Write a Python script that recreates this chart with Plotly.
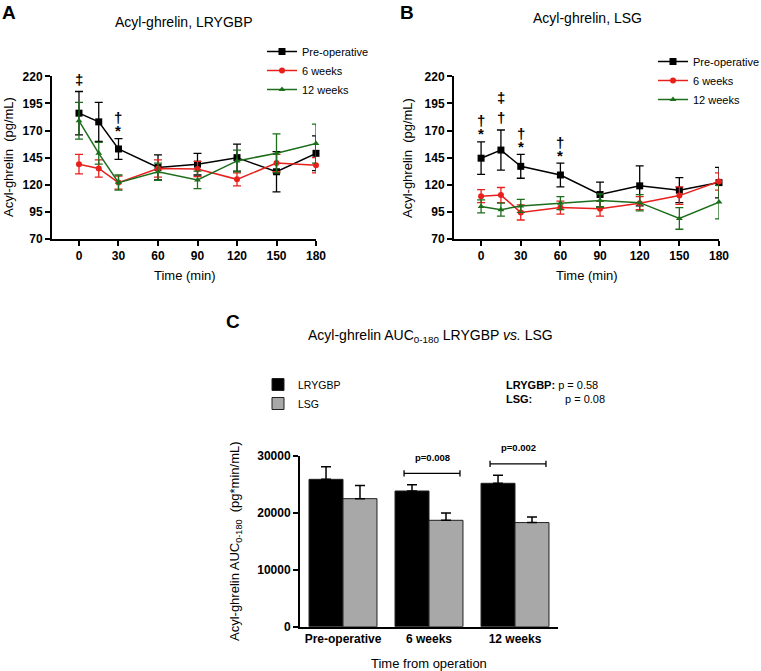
import plotly.graph_objects as go

W, H = 761, 671

# ---- data -------------------------------------------------------------
TIME = [0, 15, 30, 60, 90, 120, 150, 180]
TIME_TICKS = [0, 30, 60, 90, 120, 150, 180]
GHRELIN_TICKS = [70, 95, 120, 145, 170, 195, 220]
SERIES = ['Pre-operative', '6 weeks', '12 weeks']

# Panel A - LRYGBP (mean, SEM)
A_PRE = [186, 178, 153, 136, 139, 145, 132, 149]
A_PRE_SEM = [20, 18, 9.5, 11.5, 10, 12.5, 18.5, 16]
A_6W = [139, 135, 122, 135, 134.5, 125, 140, 138]
A_6W_SEM = [9, 8, 6, 8, 7, 6, 8, 7]
A_12W = [179, 149, 122, 132, 124.5, 142, 149, 158]
A_12W_SEM = [17, 10, 7, 8, 8, 10, 18, 18]

# Panel B - LSG (mean, SEM)
B_PRE = [144.5, 152, 137, 129, 111, 119, 115, 122]
B_PRE_SEM = [15, 18.5, 11, 11, 11.5, 18.5, 11.5, 14]
B_6W = [109.5, 110.5, 94.5, 99, 98, 103, 110, 123]
B_6W_SEM = [6, 7, 7, 6, 7, 6, 8, 8]
B_12W = [100, 97, 100.5, 103, 105.5, 103.5, 89, 104]
B_12W_SEM = [6, 6, 6, 6, 6, 7.5, 10, 15.5]

# significance symbols above the pre-operative curve (bottom to top)
A_MARKS = {0: ['‡'], 30: ['*', '†']}
B_MARKS = {0: ['*', '†'], 15: ['†', '‡'], 30: ['*', '†'], 60: ['*', '†']}

# Panel C - AUC 0-180
AUC_GROUPS = ['Pre-operative', '6 weeks', '12 weeks']
AUC_LRYGBP = [25900, 23850, 25200]
AUC_LRYGBP_SEM = [2200, 1100, 1400]
AUC_LSG = [22500, 18700, 18300]
AUC_LSG_SEM = [2300, 1300, 1000]
AUC_TICKS = [0, 10000, 20000, 30000]
AUC_PVALUES = {'6 weeks': 'p=0.008', '12 weeks': 'p=0.002'}

# ---- styling ----------------------------------------------------------
FONT = 'Liberation Sans, Arial, sans-serif'
STYLE = {
    'Pre-operative': dict(color='black', symbol='square', size=7),
    '6 weeks': dict(color='#e8201c', symbol='circle', size=6),
    '12 weeks': dict(color='#1c6e1c', symbol='triangle-up', size=6),
}


def px_x(x):
    return x / W


def px_y(y):
    return 1 - y / H


fig = go.Figure()


def add_panel(means, sems, xa, ya, legend):
    for name, m, s in zip(SERIES, means, sems):
        st = STYLE[name]
        fig.add_trace(go.Scatter(
            x=TIME, y=m, name=name, mode='lines+markers',
            xaxis=xa, yaxis=ya, legend=legend, cliponaxis=False,
            line=dict(color=st['color'], width=1.5),
            marker=dict(color=st['color'], symbol=st['symbol'], size=st['size']),
            error_y=dict(type='data', array=s, color=st['color'], thickness=1.3, width=4),
        ))


add_panel([A_PRE, A_6W, A_12W], [A_PRE_SEM, A_6W_SEM, A_12W_SEM], 'x', 'y', 'legend')
add_panel([B_PRE, B_6W, B_12W], [B_PRE_SEM, B_6W_SEM, B_12W_SEM], 'x2', 'y2', 'legend2')

# bars
for name, vals, sem, col in [('LRYGBP', AUC_LRYGBP, AUC_LRYGBP_SEM, 'black'),
                             ('LSG', AUC_LSG, AUC_LSG_SEM, '#a8a8a8')]:
    fig.add_trace(go.Bar(
        x=AUC_GROUPS, y=vals, name=name, xaxis='x3', yaxis='y3', legend='legend3',
        marker=dict(color=col, line=dict(color='#202020', width=1)),
        error_y=dict(type='data', array=sem, arrayminus=[0] * len(sem), symmetric=False,
                     color='black', thickness=1.5, width=5),
    ))

annotations = []
shapes = []


def marks(markdict, means, sems, xa, ya):
    first = {'*': 8, '†': 12, '‡': 12}
    step = {'*': 13, '†': 13, '‡': 20}
    for t, syms in markdict.items():
        i = TIME.index(t)
        cap = means[i] + sems[i]
        off = 0
        for k, s in enumerate(syms):
            off += first[s] if k == 0 else step[s]
            annotations.append(dict(
                x=t, y=cap, xref=xa, yref=ya, text='<b>%s</b>' % s, showarrow=False,
                yshift=off, xanchor='center', yanchor='middle',
                font=dict(size=15, color='black')))


marks(A_MARKS, A_PRE, A_PRE_SEM, 'x', 'y')
marks(B_MARKS, B_PRE, B_PRE_SEM, 'x2', 'y2')

# brackets over the AUC bars
for g, ptxt in AUC_PVALUES.items():
    i = AUC_GROUPS.index(g)
    top = max(AUC_LRYGBP[i] + AUC_LRYGBP_SEM[i], AUC_LSG[i] + AUC_LSG_SEM[i])
    yb = top + 2000
    x0, x1 = i - 0.29, i + 0.36
    shapes.append(dict(type='line', xref='x3', yref='y3', x0=x0, x1=x1, y0=yb, y1=yb,
                       line=dict(color='black', width=1.3)))
    for xe in (x0, x1):
        shapes.append(dict(type='line', xref='x3', yref='y3', x0=xe, x1=xe,
                           y0=yb - 550, y1=yb + 550, line=dict(color='black', width=1.3)))
    annotations.append(dict(x=(x0 + x1) / 2, y=yb, xref='x3', yref='y3', text=ptxt,
                            showarrow=False, yshift=16, xanchor='center', yanchor='middle',
                            font=dict(size=9.5, weight='bold')))


def txt(x, y, text, size, **kw):
    d = dict(x=px_x(x), y=px_y(y), xref='paper', yref='paper', text=text,
             showarrow=False, xanchor='center', yanchor='middle',
             font=dict(size=size, color='black'))
    d.update(kw)
    annotations.append(d)


# panel letters and titles
txt(9, 0, '<b>A</b>', 19, yanchor='top')
txt(407, 0, '<b>B</b>', 19, yanchor='top')
txt(233, 321, '<b>C</b>', 19)
txt(183, 22, 'Acyl-ghrelin, LRYGBP', 14)
txt(587, 18, 'Acyl-ghrelin, LSG', 14)
txt(430, 336, 'Acyl-ghrelin AUC<sub>0-180</sub> LRYGBP <i>vs.</i> LSG', 14)

# axis titles
txt(185, 275, 'Time (min)', 13)
txt(587, 275, 'Time (min)', 13)
txt(8, 157, 'Acyl-ghrelin  (pg/mL)', 13, textangle=-90)
txt(407, 158, 'Acyl-ghrelin  (pg/mL)', 13, textangle=-90)
txt(235, 541, 'Acyl-ghrelin AUC<sub>0-180</sub>  (pg*min/mL)', 13, textangle=-90)
txt(429, 663, 'Time from operation', 13)

# overall p-values
txt(504, 385, '<b>LRYGBP:</b> p = 0.58', 11, xanchor='left')
txt(504, 399, '<b>LSG:</b>', 11, xanchor='left')
txt(563, 399, 'p = 0.08', 11, xanchor='left')

axis_common = dict(showline=True, linecolor='black', linewidth=2, ticks='outside',
                   ticklen=5, tickwidth=2, tickcolor='black', showgrid=False,
                   zeroline=False, tickfont=dict(size=12, weight='bold', color='black'))

y_top, y_bot = 76.3, 239

fig.update_layout(
    width=W, height=H, margin=dict(l=0, r=0, t=0, b=0, autoexpand=False),
    paper_bgcolor='white', plot_bgcolor='white',
    font=dict(family=FONT, color='black'),
    showlegend=True, barmode='group', bargap=0.21, bargroupgap=0,
    xaxis=dict(domain=[px_x(52), px_x(316)], range=[-20.5, 180], tickvals=TIME_TICKS,
               anchor='y', **axis_common),
    yaxis=dict(domain=[px_y(y_bot), px_y(y_top)], range=[70, 220], tickvals=GHRELIN_TICKS,
               anchor='x', **axis_common),
    xaxis2=dict(domain=[px_x(454), px_x(719)], range=[-20.5, 180], tickvals=TIME_TICKS,
                anchor='y2', **axis_common),
    yaxis2=dict(domain=[px_y(y_bot), px_y(y_top)], range=[70, 220], tickvals=GHRELIN_TICKS,
                anchor='x2', **axis_common),
    xaxis3=dict(domain=[px_x(300), px_x(558)], anchor='y3', **{**axis_common, 'ticks': ''}),
    yaxis3=dict(domain=[px_y(626.7), px_y(456)], range=[0, 30000], tickvals=AUC_TICKS,
                tickformat='d', anchor='x3', **axis_common),
    legend=dict(x=px_x(262), y=px_y(37), xanchor='left', yanchor='top',
                font=dict(size=11), bgcolor='rgba(0,0,0,0)', tracegroupgap=0),
    legend2=dict(x=px_x(653), y=px_y(47), xanchor='left', yanchor='top',
                 font=dict(size=11), bgcolor='rgba(0,0,0,0)'),
    legend3=dict(x=px_x(258), y=px_y(370), xanchor='left', yanchor='top',
                 font=dict(size=10.5), bgcolor='rgba(0,0,0,0)'),
    annotations=annotations, shapes=shapes,
)

# page body has a default 8px margin; drop it so the figure fills the window
fig.write_html('out.html', config={'displayModeBar': False},
               post_script="document.body.style.margin='0';document.body.style.overflow='hidden';")
